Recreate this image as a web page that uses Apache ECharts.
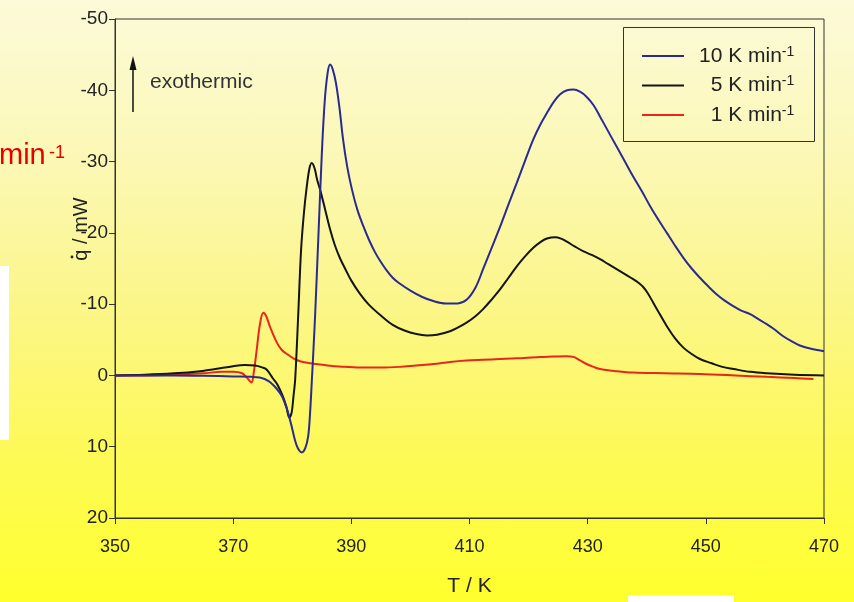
<!DOCTYPE html>
<html>
<head>
<meta charset="utf-8">
<script src="https://cdn.jsdelivr.net/npm/echarts@6/dist/echarts.min.js"></script>
<style>
html,body{margin:0;padding:0;}
#main{width:854px;height:602px;background:linear-gradient(to bottom,#fcfad8 0%,#fbf8b8 25%,#fbf68a 50%,#fdf95e 72%,#ffff2c 100%);}
</style>
</head>
<body>
<div id="main"></div>
<script>
// ---- data (T in K, heat flow in mW; negative = exothermic) ----
const seriesNames = ['10', '5', '1'];
const xTicks = [350, 370, 390, 410, 430, 450, 470];
const yTicks = [-50, -40, -30, -20, -10, 0, 10, 20];

const T_10 = [350,355,360,365,370,373,374.5,376,377.4,378.3,379.1,379.8,380.5,381.0,381.6,382.2,382.7,383.0,383.3,383.6,383.9,384.4,385.0,385.5,386.0,386.4,386.9,387.4,388.0,388.6,389.3,390.1,391,392,393,394,395,396,397,398,400,402,404,406,408,409.5,411,412.3,413.7,415.2,416.6,418,419.4,420.8,422,423.1,424.2,425.3,426.5,427.6,428.7,429.8,431,432.1,433.5,434.9,436.3,437.7,439.2,440.6,442,443.4,444.8,446.2,447.6,449,450.4,451.8,453.2,454.7,456,457.5,458.9,460.3,461.7,463.1,464.5,465.9,468,470];
const Q_10 = [0,0,0,0.05,0.15,0.2,0.3,0.8,1.9,3.0,4.7,6.8,9.2,10.3,10.8,10.2,8.5,5.5,1.0,-3.8,-9,-19,-31,-38.5,-42.5,-43.6,-42.8,-41,-37.5,-33.1,-29.3,-26.1,-23.3,-21,-19,-17.3,-15.9,-14.7,-13.7,-13.0,-11.9,-11.0,-10.4,-10.1,-10.1,-10.6,-12.3,-14.9,-17.8,-20.9,-24,-27,-30.1,-33.1,-35.2,-36.8,-38.3,-39.4,-40.0,-40.1,-39.8,-39.1,-37.9,-36.3,-34.2,-32.1,-30.0,-27.9,-25.8,-23.7,-21.8,-20.0,-18.2,-16.5,-15.0,-13.7,-12.5,-11.4,-10.5,-9.7,-9.1,-8.6,-7.9,-7.2,-6.4,-5.5,-4.8,-4.2,-3.7,-3.4];

const T_5 = [350,355,360,364.4,367,370,372,373.7,375,375.7,376.7,377.5,378.4,379.0,379.5,379.9,380.2,380.5,381.0,381.5,382.0,382.4,382.9,383.3,383.8,384.2,384.7,385.5,386.4,387.2,388.1,389,390,391.5,393,395,397,399,401,402.8,404.5,406.7,408,409.5,411,412.3,413.7,415.2,416.6,418,419.4,420.8,422,423.1,424.5,425.5,426.4,427.8,429.3,430.7,432.1,433.5,434.9,436.3,437.7,438.6,439.4,440.2,441.1,442.2,443.4,444.8,446.2,447.6,449,451,452.8,454.7,457.5,460.3,465,470];
const Q_5 = [0,-0.1,-0.3,-0.6,-0.9,-1.3,-1.45,-1.4,-1.1,-0.8,0.4,1.3,2.9,4.4,5.9,5.2,3.0,0.5,-8.3,-17.7,-23,-26.1,-29,-29.8,-29,-27.5,-26.1,-23.5,-20.5,-18.3,-16.4,-14.9,-13.3,-11.4,-9.9,-8.4,-7.1,-6.3,-5.8,-5.6,-5.7,-6.2,-6.7,-7.4,-8.3,-9.3,-10.6,-12.1,-13.7,-15.3,-16.7,-17.9,-18.7,-19.2,-19.4,-19.2,-18.8,-18.1,-17.4,-16.9,-16.3,-15.6,-14.9,-14.2,-13.5,-13.0,-12.4,-11.5,-10.2,-8.6,-6.9,-5.2,-3.9,-3.0,-2.3,-1.7,-1.2,-0.9,-0.5,-0.3,-0.1,0];

const T_1 = [350,355,360,365,368,370,371.5,372.3,373.1,373.5,374.0,374.5,375.1,375.6,376.2,377.4,378.2,379.1,380.2,381.3,382.7,384.1,386,388,391.5,395,398.2,401,403.9,406.7,409.5,412.3,415.2,418,421.9,424,426.4,427.6,428.7,429.8,431,432.1,434.9,437.7,443,449,455,460.3,465,468.2];
const Q_1 = [0,0,-0.1,-0.3,-0.5,-0.5,-0.3,0.3,1.0,-0.5,-3.7,-7.0,-8.8,-8.3,-6.9,-4.6,-3.6,-3.0,-2.4,-2.0,-1.75,-1.6,-1.4,-1.25,-1.1,-1.1,-1.2,-1.4,-1.6,-1.9,-2.1,-2.2,-2.3,-2.4,-2.6,-2.65,-2.7,-2.6,-2.1,-1.6,-1.2,-0.9,-0.6,-0.4,-0.3,-0.2,0,0.2,0.35,0.5];

const colors = ['#2a2a92', '#141414', '#e8261c'];
const zip = (a, b) => a.map((t, i) => [t, b[i]]);
const seriesData = [zip(T_10, Q_10), zip(T_5, Q_5), zip(T_1, Q_1)];

const FONT = 'Liberation Sans, Arial, sans-serif';
const chart = echarts.init(document.getElementById('main'));

chart.setOption({
  backgroundColor: 'transparent',
  animation: false,
  grid: { left: 115, right: 30, top: 19, bottom: 80, show: true, borderColor: '#333', borderWidth: 1, backgroundColor: 'transparent' },
  xAxis: {
    type: 'value', min: xTicks[0], max: xTicks[xTicks.length - 1], interval: 20,
    name: 'T / K', nameLocation: 'middle', nameGap: 58,
    nameTextStyle: { fontFamily: FONT, fontSize: 21, color: '#222' },
    axisLine: { show: true, onZero: false, lineStyle: { color: '#333', width: 1 } },
    axisTick: { show: true, length: 6, lineStyle: { color: '#333' } },
    axisLabel: { fontFamily: FONT, fontSize: 18, color: '#222', margin: 20 },
    splitLine: { show: false }
  },
  yAxis: {
    type: 'value', min: yTicks[0], max: yTicks[yTicks.length - 1], interval: 10, inverse: true,
    axisLine: { show: true, onZero: false, lineStyle: { color: '#333', width: 1 } },
    axisTick: { show: true, length: 6, lineStyle: { color: '#333' } },
    axisLabel: { fontFamily: FONT, fontSize: 19, color: '#222', margin: 7 },
    splitLine: { show: false }
  },
  legend: {
    orient: 'vertical', left: 637, top: 40, itemWidth: 42, itemHeight: 2, itemGap: 8,
    icon: 'rect',
    data: seriesNames,
    formatter: n => '{a|' + (n.length < 2 ? '\u2007' : '') + n + ' K min}{s|-1}',
    textStyle: {
      fontFamily: FONT, color: '#222',
      rich: {
        a: { fontFamily: FONT, fontSize: 21, lineHeight: 22, padding: [0, 0, 0, 10], color: '#222' },
        s: { fontFamily: FONT, fontSize: 14, lineHeight: 14, verticalAlign: 'top', color: '#222' }
      }
    }
  },
  graphic: [
    { type: 'rect', shape: { x: 623.5, y: 27.5, width: 191, height: 114 }, style: { fill: 'none', stroke: '#333', lineWidth: 1 }, z: 1 },
    { type: 'line', shape: { x1: 133, y1: 112, x2: 133, y2: 64 }, style: { stroke: '#111', lineWidth: 1.5 } },
    { type: 'polygon', shape: { points: [[133, 56], [129.5, 70], [136.5, 70]] }, style: { fill: '#111' } },
    { type: 'text', x: 150, y: 82, style: { text: 'exothermic', font: '21px ' + FONT, fill: '#333', align: 'left', verticalAlign: 'middle' } },
    { type: 'text', x: 81, y: 229, rotation: Math.PI / 2, style: { text: 'q / mW', font: '20px ' + FONT, fill: '#222', align: 'center', verticalAlign: 'middle' } },
    { type: 'circle', shape: { cx: 72, cy: 257, r: 1.4 }, style: { fill: '#222' } },
    { type: 'text', x: -1, y: 170, style: { text: 'min', font: '29px ' + FONT, fill: '#e60000', align: 'left', verticalAlign: 'bottom' } },
    { type: 'text', x: 49, y: 162, style: { text: '-1', font: '18px ' + FONT, fill: '#e60000', align: 'left', verticalAlign: 'bottom' } },
    { type: 'rect', shape: { x: 0, y: 266, width: 9, height: 174 }, style: { fill: '#ffffff' } },
    { type: 'rect', shape: { x: 628, y: 595, width: 106, height: 7 }, style: { fill: '#ffffff' } }
  ],
  series: seriesNames.map((n, i) => ({
    name: n, type: 'line', data: seriesData[i], showSymbol: false, symbol: 'none',
    smooth: 0.35,
    lineStyle: { color: colors[i], width: 2 }, itemStyle: { color: colors[i] },
    z: 3 - i
  }))
});
</script>
</body>
</html>
